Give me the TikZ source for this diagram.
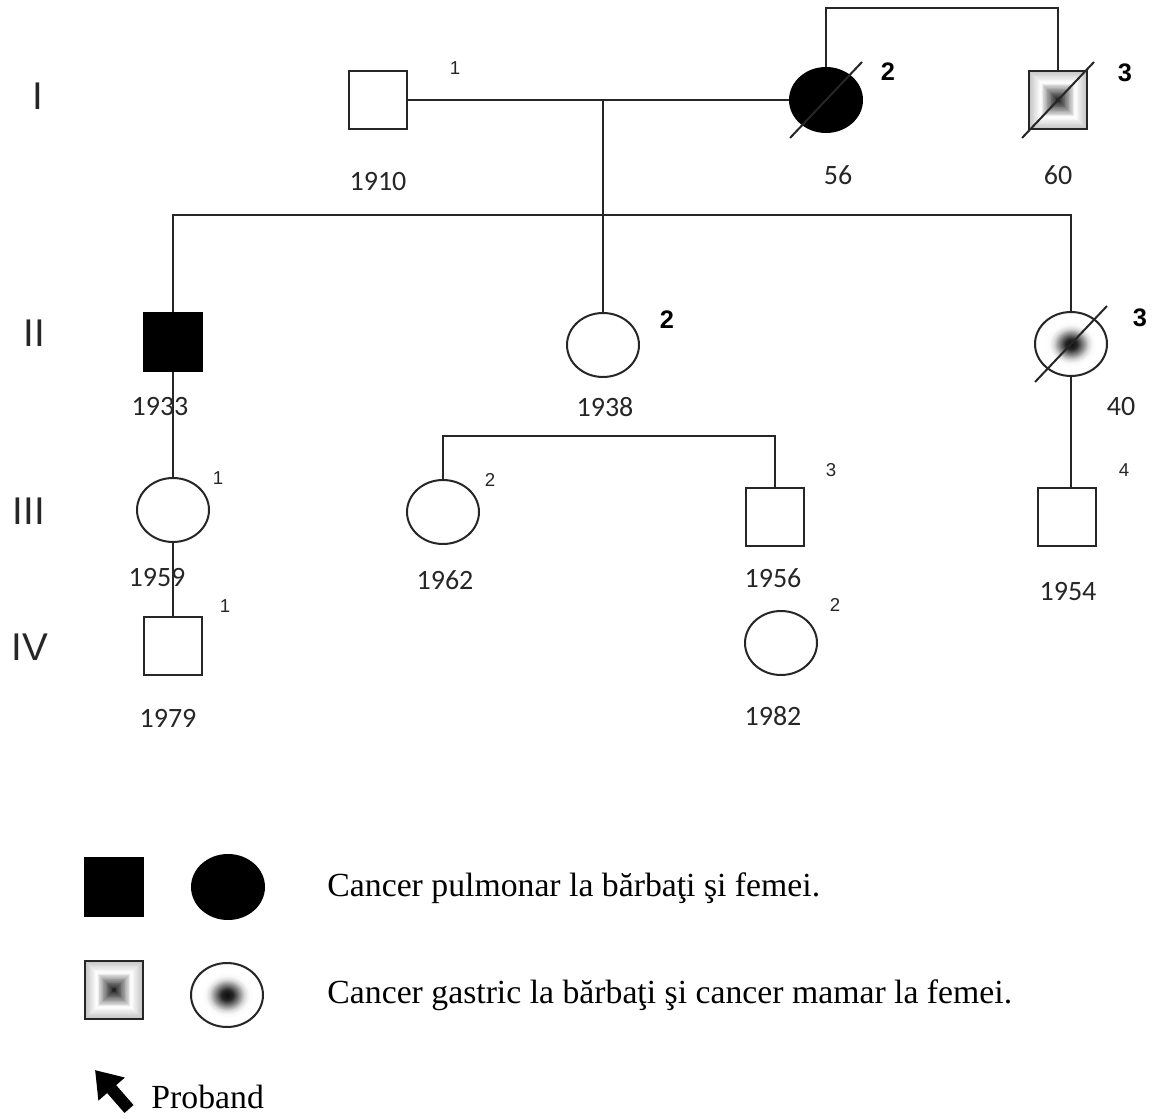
\documentclass[tikz,border=0pt]{standalone}
\usepackage{fontspec}
\setmainfont{Liberation Serif}
\newfontfamily\labelfont{Carlito}
\newfontfamily\genfont{Liberation Sans}
\usetikzlibrary{arrows.meta,shapes.geometric}

\pgfdeclareradialshading{mamarshade}{\pgfpoint{0bp}{0bp}}{color(0bp)=(black!95); color(4bp)=(black!85); color(8bp)=(black!50); color(12bp)=(black!15); color(15bp)=(black!2); color(18bp)=(white); color(23bp)=(white); color(29bp)=(black!12); color(35bp)=(black!24); color(50bp)=(black!24)}

\tikzset{every picture/.style={line width=1.5pt},
	male/.style={draw=black!85, rectangle, minimum size=44pt, inner sep=0pt},
	female/.style={draw=black!85, ellipse, minimum width=54pt, minimum height=48pt, inner sep=0pt},
	affected/.style={fill=black, draw=black},
	gastric/.style={path picture={
		\foreach \i in {0,...,35}{
			\pgfmathsetmacro{\f}{1-\i/36}
			\pgfmathsetmacro{\p}{\f>=0.6 ? 24*(\f-0.6)/0.4 : (\f>=0.42 ? 30*(0.6-\f)/0.18 : 30+62*(0.42-\f)/0.42)}
			\fill[black!\p] ([shift={(-\f*22pt,-\f*22pt)}]path picture bounding box.center) rectangle ([shift={(\f*22pt,\f*22pt)}]path picture bounding box.center);}}},
	mamarfill/.style={shading=mamarshade},
	rel/.style={draw=black!85, line width=1.5pt},
	yearlbl/.style={font=\labelfont\fontsize{21}{24}\selectfont, text=black!85},
	idx/.style={font=\genfont\fontsize{14}{16}\selectfont, text=black!85},
	idxbold/.style={font=\genfont\bfseries\fontsize{19}{22}\selectfont},
	genlbl/.style={font=\genfont\fontsize{29}{33}\selectfont, text=black!85},
	legendtxt/.style={font=\fontsize{25.3}{29}\selectfont, anchor=west}
}
\newcommand{\deceasedslash}[1]{\draw[rel] ([shift={(-36,38)}]#1.center) -- ([shift={(36,-38)}]#1.center);}

\begin{document}
\begin{tikzpicture}[x=0.75pt,y=0.75pt,yscale=-1,xscale=1]
	\useasboundingbox (0,0) rectangle (1156,1119);
	
	%Generations
	\node[genlbl] (gI) at (38,96) {I};
	\node[genlbl] (gII) at (34,333) {II};
	\node[genlbl] (gIII) at (29,511) {III};
	\node[genlbl] (gIV) at (30,647) {IV};
	
	%Generation I
	\node[male] (i1) at (378,100) {};
	\node[female, affected] (i2) at (826,100) {};
	\node[male, gastric] (i3) at (1058,100) {};
	\deceasedslash{i2}
	\deceasedslash{i3}
	\coordinate (sibtop) at (943,8);
	\coordinate (mate1) at (603,100);
	\coordinate (sib2) at (603,215);
	\draw[rel] (i1.east) -- (i2.west);
	\draw[rel] (i2.north) |- (sibtop) -| (i3.north);
	
	\node[idx] (n-i1) at (455,68) {1};
	\node[idxbold] (n-i2) at (888,72) {2};
	\node[idxbold] (n-i3) at (1125,73) {3};
	\node[yearlbl] (y-i1) at (378,182) {1910};
	\node[yearlbl] (y-i2) at (838,175) {56};
	\node[yearlbl] (y-i3) at (1058,175) {60};
	
	%Generation II
	\node[male, affected] (ii1) at (173,342) {};
	\node[female] (ii2) at (603,345) {};
	\node[female, mamarfill] (ii3) at (1071,344) {};
	\deceasedslash{ii3}
	\draw[rel] (mate1) -- (ii2.north);
	\draw[rel] (ii1.north) |- (sib2) -| (ii3.north);
	
	\node[idxbold] (n-ii2) at (667,320) {2};
	\node[idxbold] (n-ii3) at (1140,318) {3};
	\node[yearlbl] (y-ii1) at (160,407) {1933};
	\node[yearlbl] (y-ii2) at (605,407) {1938};
	\node[yearlbl] (y-ii3) at (1121,407) {40};
	
	%Generation III
	\node[female] (iii1) at (173,510) {};
	\node[female] (iii2) at (443,512) {};
	\node[male] (iii3) at (775,517) {};
	\node[male] (iii4) at (1067,517) {};
	\coordinate (sib3) at (609,436);
	\draw[rel] (ii1.south) -- (iii1.north);
	\draw[rel] (iii2.north) |- (sib3) -| (iii3.north);
	\draw[rel] (ii3.south) -- (ii3.south |- iii4.north);
	
	\node[idx] (n-iii1) at (218,478) {1};
	\node[idx] (n-iii2) at (490,480) {2};
	\node[idx] (n-iii3) at (831,470) {3};
	\node[idx] (n-iii4) at (1124,470) {4};
	\node[yearlbl] (y-iii1) at (157,578) {1959};
	\node[yearlbl] (y-iii2) at (445,580) {1962};
	\node[yearlbl] (y-iii3) at (773,578) {1956};
	\node[yearlbl] (y-iii4) at (1068,592) {1954};
	
	%Generation IV
	\node[male] (iv1) at (173,646) {};
	\node[female] (iv2) at (781,643) {};
	\draw[rel, line width=1pt] (iii1.south) -- (iv1.north);
	
	\node[idx] (n-iv1) at (225,606) {1};
	\node[idx] (n-iv2) at (835,605) {2};
	\node[yearlbl] (y-iv1) at (168,718) {1979};
	\node[yearlbl] (y-iv2) at (773,716) {1982};
	
	%Legend
	\node[male, affected] (lg-m1) at (114,887) {};
	\node[female, affected] (lg-f1) at (228,887) {};
	\node[male, gastric] (lg-m2) at (114,990) {};
	\node[female, mamarfill] (lg-f2) at (227,995) {};
	\node[legendtxt] (lg-t1) at (322,888) {Cancer pulmonar la bărbaţi şi femei.};
	\node[legendtxt] (lg-t2) at (322,995) {Cancer gastric la bărbaţi şi cancer mamar la femei.};
	\coordinate (prob-tail) at (129,1109);
	\coordinate (prob-tip) at (95,1070);
	\draw[-{Triangle[length=19pt,width=25pt]}, line width=9pt] (prob-tail) -- (prob-tip);
	\node[legendtxt] (lg-t3) at (146,1097) {Proband};
	
\end{tikzpicture}
\end{document}
